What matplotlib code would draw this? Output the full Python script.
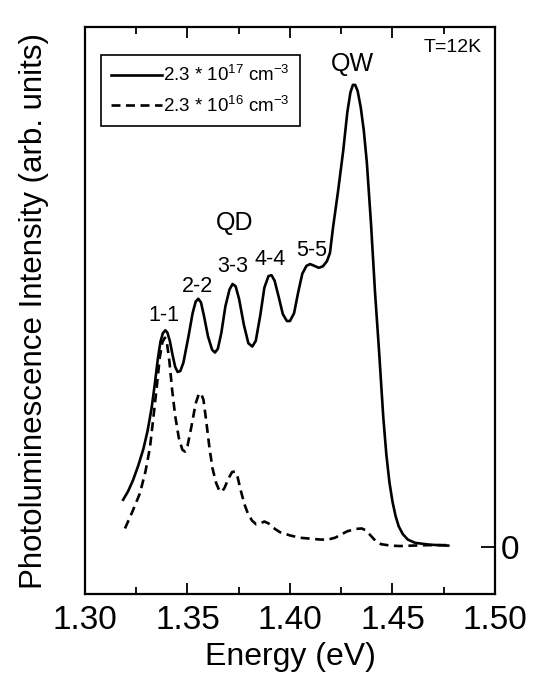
import matplotlib
matplotlib.use("Agg")
import matplotlib.pyplot as plt
import numpy as np

plt.rcParams['font.family'] = ['Liberation Sans', 'DejaVu Sans']
plt.rcParams['mathtext.fontset'] = 'custom'
plt.rcParams['mathtext.rm'] = 'Liberation Sans'
plt.rcParams['mathtext.it'] = 'Liberation Sans:italic'

# Espectro con 2.3e17 cm^-3 (linea continua)
energia_alta = [1.3186, 1.3210, 1.3235, 1.3260, 1.3285, 1.3305, 1.3325, 1.3340, 1.3355,
                1.3368, 1.3380, 1.3392, 1.3402, 1.3414, 1.3427, 1.3440, 1.3452, 1.3465,
                1.3480, 1.3505, 1.3525, 1.3540, 1.3553, 1.3566, 1.3580, 1.3600, 1.3620,
                1.3634, 1.3648, 1.3665, 1.3685, 1.3705, 1.3720, 1.3735, 1.3752, 1.3775,
                1.3797, 1.3816, 1.3833, 1.3855, 1.3875, 1.3895, 1.3910, 1.3925, 1.3945,
                1.3965, 1.3985, 1.4000, 1.4020, 1.4040, 1.4060, 1.4080, 1.4098, 1.4120,
                1.4140, 1.4160, 1.4180, 1.4195, 1.4210, 1.4235, 1.4260, 1.4280, 1.4295,
                1.4307, 1.4318, 1.4330, 1.4345, 1.4360, 1.4375, 1.4395, 1.4415, 1.4435,
                1.4455, 1.4470, 1.4485, 1.4500, 1.4515, 1.4530, 1.4550, 1.4575, 1.4610,
                1.4680, 1.4772]
pl_alta = [0.102, 0.120, 0.145, 0.176, 0.212, 0.250, 0.300, 0.350, 0.405,
           0.443, 0.462, 0.468, 0.463, 0.445, 0.415, 0.389, 0.378, 0.380,
           0.398, 0.455, 0.505, 0.530, 0.536, 0.528, 0.500, 0.455, 0.426,
           0.420, 0.428, 0.462, 0.520, 0.556, 0.568, 0.563, 0.535, 0.480,
           0.440, 0.433, 0.445, 0.500, 0.560, 0.585, 0.587, 0.575, 0.540,
           0.503, 0.488, 0.488, 0.505, 0.550, 0.590, 0.607, 0.611, 0.607,
           0.603, 0.606, 0.617, 0.635, 0.690, 0.770, 0.857, 0.940, 0.982,
           0.998, 0.998, 0.985, 0.950, 0.900, 0.830, 0.700, 0.549, 0.420,
           0.281, 0.200, 0.140, 0.098, 0.067, 0.045, 0.028, 0.016, 0.009,
           0.005, 0.003]

# Espectro con 2.3e16 cm^-3 (linea discontinua)
energia_baja = [1.3195, 1.3230, 1.3268, 1.3295, 1.3317, 1.3335, 1.3350, 1.3365, 1.3378,
                1.3390, 1.3400, 1.3412, 1.3425, 1.3440, 1.3458, 1.3475, 1.3488, 1.3500,
                1.3520, 1.3540, 1.3555, 1.3566, 1.3578, 1.3592, 1.3607, 1.3622, 1.3640,
                1.3655, 1.3667, 1.3680, 1.3700, 1.3718, 1.3732, 1.3745, 1.3760, 1.3778,
                1.3795, 1.3815, 1.3835, 1.3855, 1.3875, 1.3895, 1.3920, 1.3951, 1.4000,
                1.4049, 1.4098, 1.4150, 1.4185, 1.4220, 1.4250, 1.4280, 1.4320, 1.4350,
                1.4370, 1.4395, 1.4420, 1.4445, 1.4490, 1.4537, 1.4600, 1.4680, 1.4764]
pl_baja = [0.040, 0.075, 0.116, 0.163, 0.215, 0.285, 0.345, 0.410, 0.443,
           0.452, 0.440, 0.400, 0.340, 0.283, 0.235, 0.210, 0.206, 0.218,
           0.262, 0.310, 0.330, 0.332, 0.318, 0.270, 0.215, 0.170, 0.138,
           0.122, 0.119, 0.127, 0.148, 0.162, 0.163, 0.150, 0.122, 0.092,
           0.072, 0.057, 0.049, 0.051, 0.055, 0.051, 0.041, 0.032, 0.025,
           0.020, 0.018, 0.016, 0.016, 0.020, 0.027, 0.034, 0.039, 0.040,
           0.036, 0.024, 0.012, 0.006, 0.003, 0.002, 0.003, 0.004, 0.004]

# Etiquetas de las transiciones
etiquetas = ['1-1', '2-2', '3-3', '4-4', '5-5']
etiquetas_x = [1.3385, 1.3551, 1.3722, 1.3902, 1.4107]
etiquetas_y = [0.501, 0.562, 0.605, 0.620, 0.641]

fig = plt.figure(figsize=(5.49, 6.84), dpi=100)
ax = fig.add_axes([0.1548, 0.1316, 0.7468, 0.8289])

ax.plot(energia_alta, pl_alta, 'k-', linewidth=1.9, label=r'2.3 * 10$^{17}$ cm$^{-3}$')
ax.plot(energia_baja, pl_baja, 'k--', linewidth=1.9, dashes=(3.4, 2.1),
        label=r'2.3 * 10$^{16}$ cm$^{-3}$')

for txt, xx, yy in zip(etiquetas, etiquetas_x, etiquetas_y):
    ax.text(xx, yy, txt, ha='center', va='center', fontsize=15.5)
ax.text(1.3732, 0.70, 'QD', ha='center', va='center', fontsize=18)
ax.text(1.4307, 1.043, 'QW', ha='center', va='center', fontsize=18)
ax.text(0.898, 0.963, 'T=12K', transform=ax.transAxes, ha='center', va='center', fontsize=14)

ax.set_xlim(1.30, 1.50)
ax.set_ylim(-0.1015, 1.123)
ax.set_xticks([1.30, 1.35, 1.40, 1.45, 1.50])
ax.set_xticks(np.arange(1.325, 1.50, 0.05), minor=True)
ax.set_xticklabels(['1.30', '1.35', '1.40', '1.45', '1.50'])
ax.tick_params(axis='x', which='both', direction='in', top=True, labeltop=False,
               labelsize=24, pad=8, width=1.3)
ax.tick_params(axis='x', which='major', length=8)
ax.tick_params(axis='x', which='minor', length=5)

ax.yaxis.tick_right()
ax.set_yticks([0])
ax.tick_params(axis='y', direction='in', length=10, width=1.3, labelsize=24, pad=4,
               left=False, right=True)
ax.yaxis.set_label_position('left')
ax.set_ylabel('Photoluminescence Intensity (arb. units)', fontsize=22.5, labelpad=26)
ax.set_xlabel('Energy (eV)', fontsize=23, labelpad=4)

for s in ax.spines.values():
    s.set_linewidth(1.6)

leg = ax.legend(loc='upper left', bbox_to_anchor=(0.038, 0.951), borderaxespad=0,
                fancybox=False, edgecolor='black', framealpha=1, fontsize=13.5,
                handlelength=2.7, handletextpad=0.1, borderpad=0.55, labelspacing=0.55)
leg.get_frame().set_linewidth(1.2)

fig.savefig('out.png', dpi=100)
